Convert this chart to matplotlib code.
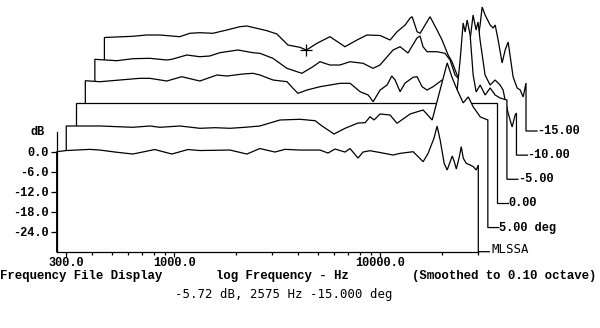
import numpy as np
import matplotlib
matplotlib.use('Agg')
import matplotlib.pyplot as plt
from matplotlib.transforms import ScaledTranslation

# ---------------- data (Hz, dB) ----------------
freq_t0 = [269, 300, 389, 435, 516, 630, 806, 975, 1166, 1334, 1866, 2256, 2608, 3088, 3452, 4083,
           5108, 5587, 6043, 6759, 7146, 7818, 8264, 8935, 10000, 11568, 12508, 14478, 16192, 17113,
           18290, 18925, 19585, 20481, 21181, 21903, 22414, 22935, 23468, 24271, 24796, 25374,
           26233, 27418, 28379, 29318, 30000]
db_t0 = [0.0, 0.35, 0.7, 0.5, -0.1, -0.7, 0.65, -0.7, 0.65, 0.35, 0.5, -0.7, 0.95, -0.1, 0.7, 0.5,
         0.5, -0.4, 0.8, -0.1, 0.95, -1.9, -0.1, 0.3, -0.25, -1.0, -0.5, 0.0, -3.0, -0.5,
         4.1, 7.7, 3.5, -3.5, -5.5, -3.0, -1.3, -3.0, -5.2, -1.5, 1.5, -2.0,
         -3.5, -4.0, -4.5, -5.5, -4.0]

freq_t1 = [269, 392, 566, 686, 766, 959, 1200, 1419, 1679, 1986, 2345, 2936, 3673, 4346, 4699, 5373,
           6080, 7032, 7606, 8043, 8406, 8989, 10049, 10868, 12578, 14546, 16098, 17027, 19047,
           20147, 21300, 22778, 24100, 25480, 27560, 30000]
db_t1 = [0.47, 0.47, 0.08, 0.47, 0.08, 0.47, -0.22, -0.04, -0.22, 0.08, 0.47, 2.27, 2.48, 2.06, 0.47, -1.93,
         -0.22, 1.37, 1.46, 3.26, 2.27, 4.07, 3.77, 1.28, 4.07, 5.27, 2.27, 7.97, 19.4,
         14.9, 11.3, 7.4, 9.2, 6.2, 3.2, 2.27]

freq_t2 = [269, 30000]
db_t2 = [0.0, 0.0]

freq_t3 = [269, 316, 396, 495, 553, 669, 791, 968, 1171, 1310, 1567, 1753, 1896, 2194, 2566, 2744,
           2900, 3207, 3709, 4150, 4643, 5196, 5810, 6358, 6720, 7266, 7856, 8280, 8595, 9085,
           9610, 10502, 10985, 11616, 12282, 13138, 14536, 15374, 16255, 17190, 17780, 18390,
           18805, 19230, 19885, 20565, 21270, 22240, 23520, 24870, 26300, 27810, 30000]
db_t3 = [-0.43, -0.73, -0.22, 0.29, 0.29, -0.52, 0.77, -0.52, 1.28, 0.98, 1.58, 1.79, 1.28, -0.22, -0.73, -2.71,
         -4.21, -3.22, -2.23, -1.72, -1.21, -1.21, -3.73, -4.72, -6.73, -3.22, -1.72, 0.98, -0.22, -3.73,
         -1.12, 0.59, 0.77, -2.23, -3.22, -2.23, -0.22, -2.62, -4.72, -3.22, 5.78, 16.88,
         14.18, 17.78, 13.28, 1.28, -3.81, -1.72, -4.72, -2.62, -4.72, -5.62, -6.22]

freq_t4 = [269, 344, 411, 497, 601, 636, 752, 869, 972, 1087, 1331, 1575, 1703, 1969, 2303, 2723,
           3080, 3333, 3724, 4168, 4663, 5397, 6031, 6522, 7548, 8165, 8921, 9862, 10207, 10554,
           11040, 12333, 13491, 14278, 15100, 15970, 16890, 17860, 18470, 19100, 19530, 19970,
           21120, 22340, 23630, 24980, 25840, 26420, 27330, 28580, 29560, 30000]
db_t4 = [-1.25, -1.67, -1.07, -0.95, -1.46, -1.25, 0.04, -0.47, -0.26, 0.73, 1.54, 0.73, 0.55, -0.95, -3.95, -5.45,
         -3.47, -1.97, -2.96, -2.96, -1.97, -2.45, -3.95, -2.96, 1.54, 2.53, 0.64, 5.14, 5.74, 2.53,
         1.03, 1.03, 0.55, -1.46, -5.96, -7.46, -4.46, 4.54, 12.04, 7.54, 9.94, 4.54,
         -5.96, -8.96, -7.46, -8.96, -10.46, -13.46, -17.36, -21.56, -17.96, -17.36]

freq_t5 = [269, 369, 432, 500, 625, 699, 782, 904, 1058, 1224, 1324, 1656, 1851, 2094, 2394, 2575,
           2896, 3351, 3962, 4533, 5070, 5869, 6567, 7100, 7768, 8208, 8398, 8879, 9182, 10260,
           11093, 11735, 12557, 13130, 13880, 14680, 15530, 16420, 17370, 17960, 18370, 18990,
           20090, 20780, 21250, 21970, 22970, 23760, 24570, 25980, 27180, 28110, 29060, 30000]
db_t5 = [-1.95, -1.59, -1.2, -1.2, -1.71, -0.69, -0.51, -0.69, 0.3, 1.29, 1.5, 0.09, -0.9, -4.2, -4.89, -5.72,
         -3.69, -1.71, -4.71, -2.7, -1.2, -1.35, -2.7, -0.21, 1.8, 3.9, 4.29, -0.21, -0.69, 4.29,
         0.3, -2.7, -7.2, -9.3, -13.2, -14.7, -11.7, -7.2, -4.2, 1.8, 7.2, 4.8,
         1.8, 0.9, 1.8, -2.7, -9.6, -5.7, -3.3, -13.8, -17.1, -17.7, -19.8, -15.6]

trace_freqs = [freq_t0, freq_t1, freq_t2, freq_t3, freq_t4, freq_t5]
trace_dbs = [db_t0, db_t1, db_t2, db_t3, db_t4, db_t5]
trace_labels = [None, "5.00 deg", "0.00", "-5.00", "-10.00", "-15.00"]

cursor_freq = 2575
cursor_db = -5.72

ytick_vals = [0, -6, -12, -18, -24]
ytick_labels = ["0.0", "-6.0", "-12.0", "-18.0", "-24.0"]
xtick_major = [300, 1000, 10000]
xtick_major_labels = ["300.0", "1000.0", "10000.0"]
xtick_minor = [400, 500, 600, 700, 800, 900, 2000, 3000, 4000, 5000, 6000, 7000, 8000, 9000, 20000, 30000]

# ---------------- figure ----------------
W, H = 600, 328
fig = plt.figure(figsize=(W / 100, H / 100), dpi=100)
ax = fig.add_axes([56.7 / W, 76.3 / H, 421.6 / W, 120 / H])
ax.set_xscale('log')
ax.set_xlim(269, 30000)
ax.set_ylim(-30, 6)
ax.patch.set_alpha(0)

for s in ['top', 'right']:
    ax.spines[s].set_visible(False)
for s in ['left', 'bottom']:
    ax.spines[s].set_zorder(30)
    ax.spines[s].set_linewidth(0.9)

bold = dict(family='Liberation Mono', weight='bold', size=8.6)
bold_row = dict(family='Liberation Mono', weight='bold', size=8.9)
plain = dict(family='DejaVu Sans Mono', size=8.9)

ax.set_yticks(ytick_vals)
ax.set_yticklabels(ytick_labels, **bold)
ax.set_xticks(xtick_major)
ax.set_xticklabels(xtick_major_labels, **bold)
ax.set_xticks(xtick_minor, minor=True)
ax.xaxis.set_minor_formatter(plt.NullFormatter())
ax.tick_params(axis='y', direction='out', length=4.5, width=0.9, pad=1)
ax.tick_params(axis='x', which='major', direction='out', length=3.5, width=0.9, pad=0)
ax.tick_params(axis='x', which='minor', direction='out', length=2.5, width=0.9)

dx_in, dy_in = 0.0954, 0.2414
lead = 10 ** (11 / 205.7)
floor = -30

for k in reversed(range(6)):
    tr = ax.transData + ScaledTranslation(k * dx_in, k * dy_in, fig.dpi_scale_trans)
    f = np.asarray(trace_freqs[k], dtype=float)
    d = np.asarray(trace_dbs[k], dtype=float)
    px = np.concatenate([[f[0]], f, [f[-1]]])
    py = np.concatenate([[floor], d, [floor]])
    ax.fill(px, py, facecolor='white', edgecolor='none', transform=tr,
            zorder=10 - k, clip_on=False)
    lx = np.concatenate([px, [f[-1] * lead]])
    ly = np.concatenate([py, [floor]])
    ax.plot(lx, ly, color='black', lw=0.9, transform=tr, zorder=10.5 - k,
            clip_on=False, solid_joinstyle='miter')
    if trace_labels[k]:
        ax.text(f[-1] * lead, floor, trace_labels[k], transform=tr, ha='left', va='center',
                zorder=40, clip_on=False, **bold)
    if k == 5:
        ax.plot([cursor_freq], [cursor_db], marker='+', ms=9, mew=0.9, color='black',
                transform=tr, zorder=10.7 - k, clip_on=False)
    if k == 0:
        ax.text(f[-1] * lead * 1.02, floor + 0.6, "MLSSA", transform=tr, ha='left',
                va='center', zorder=40, clip_on=False, **plain)

fig.text(38 / W, 1 - 132 / H, "dB", ha='center', va='center', **bold)
fig.text(0 / W, 1 - 276.5 / H, "Frequency File Display", ha='left', va='center', **bold_row)
fig.text(216 / W, 1 - 276.5 / H, "log Frequency - Hz", ha='left', va='center', **bold_row)
fig.text(412 / W, 1 - 276.5 / H, "(Smoothed to 0.10 octave)", ha='left', va='center', **bold_row)
fig.text(175 / W, 1 - 294.5 / H, "-5.72 dB, 2575 Hz -15.000 deg", ha='left', va='center', **plain)

fig.savefig('out.png', dpi=100, facecolor='white')
